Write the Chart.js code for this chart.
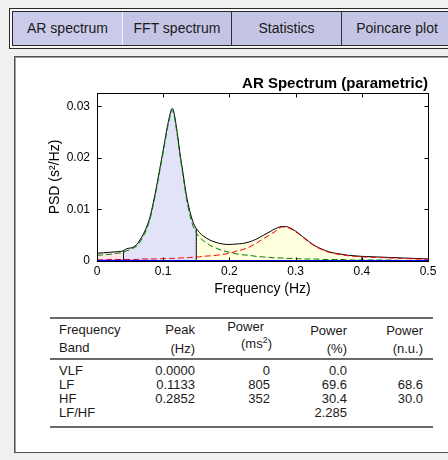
<!DOCTYPE html>
<html>
<head>
<meta charset="utf-8">
<script src="https://cdn.jsdelivr.net/npm/chart.js@4.4.0/dist/chart.umd.min.js"></script>
<style>
  body { margin: 0; width: 448px; height: 460px; background: #f0f0f0; position: relative; overflow: hidden;
         font-family: "Liberation Sans", Arial, sans-serif; color: #1a1a1a; }
  .frame { position: absolute; left: 9px; top: 8px; width: 500px; height: 39px; border: 1px solid #2a2a2a; background: #f6f6f6; }
  .tabs { position: absolute; left: 12px; top: 11px; width: 500px; height: 33px; border: 1px solid #2a2a2a; background: #c4c4e4; }
  .tab { position: absolute; top: 0; height: 33px; line-height: 33px; text-align: center; font-size: 14px; box-sizing: border-box; }
  .panel { position: absolute; left: 14px; top: 56px; width: 480px; height: 395px; background: #fff;
           border: 1px solid #505050; box-shadow: inset 1px 1px 0 #a0a0a0; }
  #chart { position: absolute; left: 0; top: 60px; }
  .rule { position: absolute; left: 50px; width: 383px; height: 2px; background: #6a6a6a; }
  .cell { position: absolute; font-size: 13px; line-height: 16px; white-space: nowrap; }
  .cell sup { font-size: 9px; vertical-align: 5px; line-height: 0; }
</style>
</head>
<body>
<div class="frame"></div>
<div class="tabs">
  <div class="tab" style="left:0;width:110px;background:#cacaea;border-right:1px solid #f4f4ff">AR spectrum</div>
  <div class="tab" style="left:110px;width:109px;border-right:1px solid #303030">FFT spectrum</div>
  <div class="tab" style="left:219px;width:110px;border-right:1px solid #303030">Statistics</div>
  <div class="tab" style="left:329px;width:110px">Poincare plot</div>
</div>
<div class="panel"></div>
<canvas id="chart" width="448" height="240"></canvas>
<div id="table"></div>
<script>
// AR spectrum (Hz vs s^2/Hz)
const freq = [0, 0.01, 0.02, 0.03, 0.04, 0.045, 0.05, 0.055, 0.06, 0.065, 0.07, 0.075, 0.08, 0.085, 0.09, 0.095,
  0.1, 0.105, 0.11, 0.1133, 0.115, 0.12, 0.125, 0.13, 0.135, 0.14, 0.145, 0.15, 0.155, 0.16,
  0.17, 0.18, 0.19, 0.2, 0.21, 0.22, 0.23, 0.24, 0.25, 0.26, 0.27, 0.28, 0.285, 0.29,
  0.3, 0.31, 0.32, 0.33, 0.34, 0.35, 0.36, 0.37, 0.38, 0.39, 0.4, 0.42, 0.44, 0.46, 0.48, 0.5];
const psdTotal = [0.0015, 0.0016, 0.0017, 0.0018, 0.0020, 0.0024, 0.0025, 0.0027, 0.0032, 0.0041, 0.0052, 0.0066, 0.0085, 0.0113, 0.0145, 0.0180,
  0.0215, 0.0252, 0.0283, 0.0296, 0.0294, 0.0260, 0.0212, 0.0170, 0.0128, 0.0098, 0.0076, 0.0063, 0.0055, 0.0049,
  0.0041, 0.0036, 0.0033, 0.0032, 0.0033, 0.0034, 0.0037, 0.0042, 0.0049, 0.0056, 0.0063, 0.0067, 0.0067, 0.0065,
  0.0058, 0.0048, 0.0038, 0.0029, 0.0023, 0.0018, 0.0015, 0.0013, 0.0011, 0.0010, 0.0009, 0.0008, 0.0007, 0.0006, 0.0005, 0.0004];
const psdLF = [0.0011, 0.0012, 0.0013, 0.0015, 0.0017, 0.0020, 0.0022, 0.0025, 0.0029, 0.0037, 0.0048, 0.0062, 0.0081, 0.0109, 0.0141, 0.0176,
  0.0211, 0.0248, 0.0279, 0.0292, 0.0290, 0.0255, 0.0207, 0.0165, 0.0122, 0.0091, 0.0068, 0.0055, 0.0046, 0.0040,
  0.0031, 0.0025, 0.0020, 0.0017, 0.0014, 0.0012, 0.0011, 0.0009, 0.0008, 0.0007, 0.0006, 0.0006, 0.0005, 0.0005,
  0.0005, 0.0004, 0.0004, 0.0004, 0.0003, 0.0003, 0.0003, 0.0003, 0.0002, 0.0002, 0.0002, 0.0002, 0.0002, 0.0001, 0.0001, 0.0001];
const psdHF = [0.0002, 0.0002, 0.0003, 0.0003, 0.0003, 0.0003, 0.0003, 0.0003, 0.0003, 0.0004, 0.0004, 0.0004, 0.0004, 0.0004, 0.0004, 0.0004,
  0.0005, 0.0005, 0.0005, 0.0005, 0.0005, 0.0005, 0.0006, 0.0006, 0.0006, 0.0007, 0.0007, 0.0008, 0.0008, 0.0009,
  0.0010, 0.0011, 0.0013, 0.0015, 0.0019, 0.0022, 0.0027, 0.0034, 0.0042, 0.0050, 0.0058, 0.0066, 0.0066, 0.0064,
  0.0057, 0.0047, 0.0037, 0.0028, 0.0022, 0.0017, 0.0014, 0.0012, 0.0010, 0.0009, 0.0008, 0.0007, 0.0006, 0.0005, 0.0004, 0.0003];
const vlfFreq = [0, 0.1, 0.2, 0.3, 0.4, 0.5];
const psdVLF = [0.0001, 0.00005, 0.00005, 0.00005, 0.00005, 0.00005];
const bandEdges = [0, 0.04, 0.15, 0.4];
const xTicks = [0, 0.1, 0.2, 0.3, 0.4, 0.5];
const xTickLabels = ['0', '0.1', '0.2', '0.3', '0.4', '0.5'];
const yTicks = [0, 0.01, 0.02, 0.03];
const yTickLabels = ['0', '0.01', '0.02', '0.03'];
const yMax = 0.0326;

// table
const tableBands = ['VLF', 'LF', 'HF', 'LF/HF'];
const tablePeak = ['0.0000', '0.1133', '0.2852', ''];
const tablePowerMs = ['0', '805', '352', ''];
const tablePowerPct = ['0.0', '69.6', '30.4', '2.285'];
const tablePowerNu = ['', '68.6', '30.0', ''];

const FONT = '"Liberation Sans", Arial, sans-serif';
const bandFills = ['#fde6e6', '#e2e2f8', '#ffffe0'];

const pts = (xs, ys) => xs.map((f, i) => ({ x: f, y: ys[i] }));
const totalAt = f => psdTotal[freq.indexOf(f)];

const datasets = [
  { data: pts(vlfFreq, psdVLF), borderColor: '#0000ff', borderWidth: 1.5, order: 1 },
  { data: pts(freq, psdHF), borderColor: '#ff0000', borderWidth: 1, borderDash: [6, 3], order: 2 },
  { data: pts(freq, psdLF), borderColor: '#008000', borderWidth: 1, borderDash: [6, 3], order: 3 },
  { data: pts(freq, psdTotal), borderColor: '#000000', borderWidth: 1, order: 4 }
];
bandEdges.slice(1).forEach(e => {
  datasets.push({ data: [{ x: e, y: 0 }, { x: e, y: totalAt(e) }], borderColor: '#000', borderWidth: 1, order: 5 });
});
for (let b = 0; b < 3; b++) {
  const lo = bandEdges[b], hi = bandEdges[b + 1];
  const data = pts(freq, psdTotal).filter(p => p.x >= lo && p.x <= hi);
  datasets.push({ data, borderWidth: 0, backgroundColor: bandFills[b], fill: 'origin', order: 6 + b });
}

const boxPlugin = {
  id: 'box',
  afterDraw(chart) {
    const { ctx, chartArea: a, scales: { x, y } } = chart;
    const L = Math.round(a.left) + 0.5, R = Math.round(a.right) + 0.5;
    const T = Math.round(a.top) + 0.5, B = Math.round(a.bottom) + 0.5;
    ctx.save();
    ctx.strokeStyle = '#000';
    ctx.lineWidth = 1;
    ctx.strokeRect(L, T, R - L, B - T);
    ctx.beginPath();
    x.ticks.forEach(t => {
      const px = Math.round(x.getPixelForValue(t.value)) + 0.5;
      ctx.moveTo(px, B); ctx.lineTo(px, B - 4);
      ctx.moveTo(px, T); ctx.lineTo(px, T + 4);
    });
    y.ticks.forEach(t => {
      const py = Math.round(y.getPixelForValue(t.value)) + 0.5;
      ctx.moveTo(L, py); ctx.lineTo(L + 4, py);
      ctx.moveTo(R, py); ctx.lineTo(R - 4, py);
    });
    ctx.stroke();
    ctx.restore();
  }
};

new Chart(document.getElementById('chart').getContext('2d'), {
  type: 'line',
  data: { datasets },
  options: {
    responsive: false,
    animation: false,
    events: [],
    elements: { point: { radius: 0 }, line: { cubicInterpolationMode: 'monotone', fill: false } },
    layout: { padding: { left: 0, right: 20, top: 0, bottom: 0 } },
    plugins: {
      legend: { display: false },
      tooltip: { enabled: false },
      title: {
        display: true, text: 'AR Spectrum (parametric)', align: 'end', color: '#000',
        font: { family: FONT, size: 15, weight: 'bold' }, padding: { top: 15, bottom: 0 }
      }
    },
    scales: {
      x: {
        type: 'linear', min: 0, max: 0.5,
        afterBuildTicks: s => { s.ticks = xTicks.map(v => ({ value: v })); },
        afterFit: s => { s.height = 39; },
        grid: { display: false, drawTicks: false }, border: { display: false },
        ticks: {
          padding: 3.5, color: '#000', maxRotation: 0, autoSkip: false, font: { family: FONT, size: 12 },
          callback: v => { const i = xTicks.indexOf(v); return i >= 0 ? xTickLabels[i] : ''; }
        },
        title: { display: true, text: 'Frequency (Hz)', color: '#000', font: { family: FONT, size: 14 }, padding: { top: 0, bottom: 2.6 } }
      },
      y: {
        type: 'linear', min: 0, max: yMax,
        afterBuildTicks: s => { s.ticks = yTicks.map(v => ({ value: v })); },
        afterFit: s => { s.width = 97; },
        grid: { display: false, drawTicks: false }, border: { display: false },
        ticks: {
          padding: 7, color: '#000', font: { family: FONT, size: 12 },
          callback: v => { const i = yTicks.indexOf(v); return i >= 0 ? yTickLabels[i] : ''; }
        },
        title: { display: true, text: 'PSD (s²/Hz)', color: '#000', font: { family: FONT, size: 14 }, padding: { top: 46.6, bottom: 0 } }
      }
    }
  },
  plugins: [boxPlugin]
});

// results table below the plot
const tbl = document.getElementById('table');
function rule(y) {
  const d = document.createElement('div');
  d.className = 'rule';
  d.style.top = (y - 1) + 'px';
  tbl.appendChild(d);
}
function cell(html, x, y, right) {
  const d = document.createElement('div');
  d.className = 'cell';
  d.innerHTML = html;
  d.style.top = (y - 8) + 'px';
  if (right) d.style.right = (448 - x) + 'px'; else d.style.left = x + 'px';
  tbl.appendChild(d);
}
rule(318); rule(359); rule(427);
cell('Frequency', 59, 330); cell('Band', 59, 348);
cell('Peak', 195, 330, true); cell('(Hz)', 195, 349, true);
cell('Power', 264, 327, true); cell('(ms<sup>2</sup>)', 272, 344, true);
cell('Power', 347, 331, true); cell('(%)', 347, 349, true);
cell('Power', 423, 331, true); cell('(n.u.)', 423, 349, true);
const rowY = [371, 385, 399, 413];
tableBands.forEach((b, i) => {
  cell(b, 59, rowY[i]);
  cell(tablePeak[i], 195, rowY[i], true);
  cell(tablePowerMs[i], 270, rowY[i], true);
  cell(tablePowerPct[i], 347, rowY[i], true);
  cell(tablePowerNu[i], 423, rowY[i], true);
});
</script>
</body>
</html>
